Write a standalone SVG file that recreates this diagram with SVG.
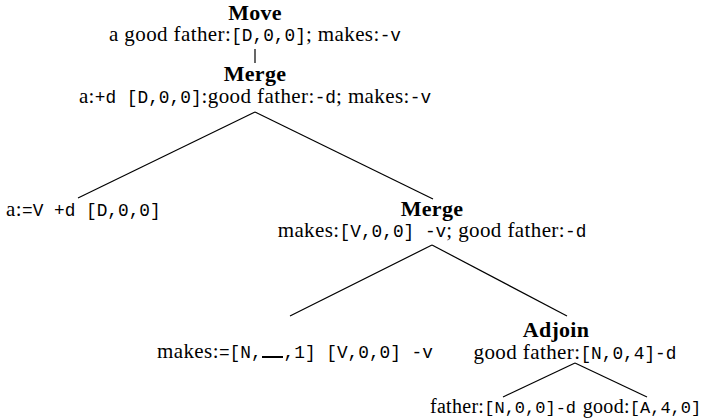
<svg xmlns="http://www.w3.org/2000/svg" width="705" height="418" viewBox="0 0 705 418">
<style>
text{font-family:"Liberation Serif","Times New Roman",serif;font-size:21px;letter-spacing:0.4px;fill:#000}
.b{font-weight:bold;font-size:22px;letter-spacing:0.3px}
.tt{font-family:"Liberation Mono","Courier New",monospace;font-size:17.8px;letter-spacing:0}
.s{font-size:20px;letter-spacing:0.3px}
.s .tt{font-size:17px}
.c{stroke:#000;stroke-width:1.2;fill:none}
</style>
<rect width="705" height="418" fill="#fff"/>
<g id="connectors">
<line class="c" x1="255" y1="49" x2="255" y2="63"/>
<line class="c" x1="255" y1="112" x2="78" y2="198"/>
<line class="c" x1="255" y1="112" x2="433" y2="199"/>
<line class="c" x1="432" y1="245" x2="290" y2="316"/>
<line class="c" x1="432" y1="245" x2="567" y2="316"/>
<line class="c" x1="575" y1="363" x2="503" y2="397"/>
<line class="c" x1="575" y1="363" x2="647" y2="397"/>
</g>
<g id="move">
<text class="b" x="255" y="20" text-anchor="middle">Move</text>
<text x="255" y="41" text-anchor="middle">a good father:<tspan class="tt">[D,0,0]</tspan>; makes:<tspan class="tt">-v</tspan></text>
</g>
<g id="merge1">
<text class="b" x="255" y="81" text-anchor="middle">Merge</text>
<text x="255" y="103" text-anchor="middle">a:<tspan class="tt">+d [D,0,0]</tspan>:good father:<tspan class="tt">-d</tspan>; makes:<tspan class="tt">-v</tspan></text>
</g>
<g id="leaf-a">
<text x="6" y="216">a:<tspan class="tt">=V +d [D,0,0]</tspan></text>
</g>
<g id="merge2">
<text class="b" x="432" y="216" text-anchor="middle">Merge</text>
<text x="432" y="237" text-anchor="middle">makes:<tspan class="tt">[V,0,0] -v</tspan>; good father:<tspan class="tt">-d</tspan></text>
</g>
<g id="leaf-makes">
<text x="157" y="358">makes:<tspan class="tt">=[N,</tspan><tspan class="tt" dx="22">,1] [V,0,0] -v</tspan></text>
<rect x="262" y="356" width="21" height="2" fill="#000"/>
</g>
<g id="adjoin">
<text class="b" x="556" y="337" text-anchor="middle">Adjoin</text>
<text x="575" y="359" text-anchor="middle">good father:<tspan class="tt">[N,0,4]-d</tspan></text>
</g>
<g id="leaf-father">
<text class="s" x="503" y="413" text-anchor="middle">father:<tspan class="tt">[N,0,0]-d</tspan></text>
</g>
<g id="leaf-good">
<text class="s" x="642" y="413" text-anchor="middle">good:<tspan class="tt">[A,4,0]</tspan></text>
</g>
</svg>
